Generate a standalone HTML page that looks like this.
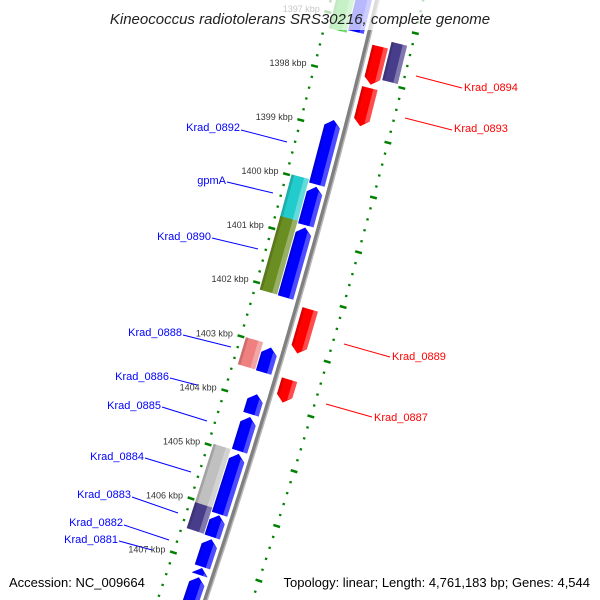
<!DOCTYPE html>
<html><head><meta charset="utf-8"><style>
html,body{margin:0;background:#fff;width:600px;height:600px;overflow:hidden}
svg{display:block;font-family:"Liberation Sans","DejaVu Sans",sans-serif}
</style></head><body>
<svg id="map" width="600" height="600" viewBox="0 0 600 600" xmlns="http://www.w3.org/2000/svg">
<rect x="0" y="0" width="600" height="600" fill="#fff"/>
<g id="tracks"></g>
<g id="genes"></g>
<g id="leaders" stroke-width="1">
<line x1="241" y1="130" x2="287" y2="142" stroke="#0000ff"/>
<line x1="227" y1="182" x2="273" y2="193" stroke="#0000ff"/>
<line x1="212" y1="238" x2="258" y2="249" stroke="#0000ff"/>
<line x1="183" y1="335" x2="231" y2="347" stroke="#0000ff"/>
<line x1="170" y1="378" x2="197" y2="385" stroke="#0000ff"/>
<line x1="162" y1="407" x2="207" y2="421" stroke="#0000ff"/>
<line x1="145" y1="458" x2="191" y2="472" stroke="#0000ff"/>
<line x1="132" y1="497" x2="178" y2="513" stroke="#0000ff"/>
<line x1="124" y1="525" x2="169" y2="540" stroke="#0000ff"/>
<line x1="119" y1="541" x2="152" y2="550" stroke="#0000ff"/>
<line x1="416" y1="76" x2="462" y2="88" stroke="#ff0000"/>
<line x1="405" y1="118" x2="452" y2="130" stroke="#ff0000"/>
<line x1="344" y1="344" x2="390" y2="357" stroke="#ff0000"/>
<line x1="326" y1="404" x2="372" y2="417" stroke="#ff0000"/>
</g>
<g font-size="11">
<text x="240" y="131" text-anchor="end" fill="#0000ff">Krad_0892</text>
<text x="226" y="184" text-anchor="end" fill="#0000ff">gpmA</text>
<text x="211" y="240" text-anchor="end" fill="#0000ff">Krad_0890</text>
<text x="182" y="336" text-anchor="end" fill="#0000ff">Krad_0888</text>
<text x="169" y="380" text-anchor="end" fill="#0000ff">Krad_0886</text>
<text x="161" y="409" text-anchor="end" fill="#0000ff">Krad_0885</text>
<text x="144" y="460" text-anchor="end" fill="#0000ff">Krad_0884</text>
<text x="131" y="498" text-anchor="end" fill="#0000ff">Krad_0883</text>
<text x="123" y="526" text-anchor="end" fill="#0000ff">Krad_0882</text>
<text x="118" y="543" text-anchor="end" fill="#0000ff">Krad_0881</text>
<text x="464" y="91" fill="#ff0000">Krad_0894</text>
<text x="454" y="132" fill="#ff0000">Krad_0893</text>
<text x="392" y="360" fill="#ff0000">Krad_0889</text>
<text x="374" y="421" fill="#ff0000">Krad_0887</text>
</g>
<g id="kbplabels"></g>
<rect x="0" y="0" width="600" height="30" fill="#fff" opacity="0.72"/>
<text x="300" y="24" text-anchor="middle" font-size="15" font-style="italic" fill="#222">Kineococcus radiotolerans SRS30216, complete genome</text>
<text x="9" y="587" font-size="13" fill="#000">Accession: NC_009664</text>
<text x="590" y="587" font-size="13" text-anchor="end" fill="#000">Topology: linear; Length: 4,761,183 bp; Genes: 4,544</text>
</svg>
<script>
// gene data (kbp)
var geneStarts = [1396.46,1398.85,1400.08,1400.83,1403.04,1403.90,1404.32,1405.00,1406.13,1406.57,1407.10,1407.27,
                  1396.54,1399.98,1400.75,1402.99,1404.96,1406.04,
                  1397.38,1398.14,1402.20,1403.49,1397.25];
var geneEnds   = [1397.23,1400.04,1400.79,1402.12,1403.50,1404.27,1404.95,1406.11,1406.53,1407.08,1407.23,1408.05,
                  1397.28,1400.77,1402.11,1403.49,1406.06,1406.52,
                  1398.08,1398.84,1403.01,1403.91,1397.95];
var geneStrand = ['+','+','+','+','+','+','+','+','+','+','+','+',
                  'b','b','b','b','b','b',
                  '-','-','-','-','r'];
var geneColors = ['#0000ff','#0000ff','#0000ff','#0000ff','#0000ff','#0000ff','#0000ff','#0000ff','#0000ff','#0000ff','#0000ff','#0000ff',
                  '#33cc33','#22cccc','#6b8e23','#f08080','#c0c0c0','#483d8b',
                  '#ff0000','#ff0000','#ff0000','#ff0000','#483d8b'];
var tickKbp = [1397,1398,1399,1400,1401,1402,1403,1404,1405,1406,1407];
var tickLabels = ['1397 kbp','1398 kbp','1399 kbp','1400 kbp','1401 kbp','1402 kbp','1403 kbp','1404 kbp','1405 kbp','1406 kbp','1407 kbp'];

var NS='http://www.w3.org/2000/svg';
function X(y){return 377-0.238*y-8.1e-5*y*y;}
function dX(y){return -0.238-1.62e-4*y;}
function yOf(k){return 77+(k-1398)*54.4;}
function pt(k,o){var yb=yOf(k),xb=X(yb),d=dX(yb),n=Math.sqrt(1+d*d);return [xb+o/n, yb-d*o/n];}
function P(a){return a.map(function(p){return p[0].toFixed(1)+','+p[1].toFixed(1);}).join(' ');}
function mk(tag,attrs,parent){var e=document.createElementNS(NS,tag);for(var k in attrs)e.setAttribute(k,attrs[k]);parent.appendChild(e);return e;}

var tracks=document.getElementById('tracks');
var bb=[],bb2=[];
for(var k=1396.2;k<=1408.6;k+=0.1){bb.push(pt(k,0));bb2.push(pt(k,2));}
var l1=mk('polyline',{points:P(bb),fill:'none',stroke:'#808080','stroke-width':4},tracks);


var l2=mk('polyline',{points:P(bb2),fill:'none',stroke:'#b8b8b8','stroke-width':1.5},tracks);


[-45,45].forEach(function(off){
  for(var i=0;i<=65;i++){
    var k=1396.0+i*0.2;var major=(i%5===0);
    var h=major?3.5:1.2;
    var a=pt(k,off-h),b=pt(k,off+h);
    var s=mk('line',{x1:a[0],y1:a[1],x2:b[0],y2:b[1],stroke:'#008000','stroke-width':major?2.5:2.2},tracks);
    
    
  }
});
var kl=document.getElementById('kbplabels');
tickKbp.forEach(function(k,i){
  var p=pt(k,-45);
  var t=mk('text',{x:(p[0]-8).toFixed(1),y:(p[1]).toFixed(1),'text-anchor':'end','font-size':9,fill:'#333'},kl);
  t.textContent=tickLabels[i];
  
  
});
var gg=document.getElementById('genes');
var cols={'+':[-21,-5],'b':[-40,-22],'-':[6,22],'r':[24,40]};
for(var i=0;i<geneStarts.length;i++){
  var s=geneStarts[i],e=geneEnds[i],st=geneStrand[i],c=cols[st],o1=c[0],o2=c[1],om=(o1+o2)/2,a=0.12;
  var pts;
  if(st==='+') pts=[pt(s,om),pt(s+a,o2),pt(e,o2),pt(e,o1),pt(s+a,o1)];
  else if(st==='-') pts=[pt(s,o1),pt(s,o2),pt(e-a,o2),pt(e,om),pt(e-a,o1)];
  else pts=[pt(s,o1),pt(s,o2),pt(e,o2),pt(e,o1)];
  var g=mk('g',{},gg);
  
  
  mk('polygon',{points:P(pts),fill:geneColors[i]},g);
  var w=o2-o1,ho=o2-w*0.28;
  var hl=(st==='+')?[pt(s+a*0.6,ho),pt(s+a,o2),pt(e,o2),pt(e,ho)]:(st==='-')?[pt(s,ho),pt(s,o2),pt(e-a,o2),pt(e-a*0.6,ho)]:[pt(s,ho),pt(s,o2),pt(e,o2),pt(e,ho)];
  mk('polygon',{points:P(hl),fill:'#fff',opacity:0.3},g);
  var sh=o1+w*0.15;
  var dk=(st==='+')?[pt(s+a,o1),pt(s+a*0.6,sh),pt(e,sh),pt(e,o1)]:(st==='-')?[pt(s,o1),pt(s,sh),pt(e-a*0.6,sh),pt(e-a,o1)]:[pt(s,o1),pt(s,sh),pt(e,sh),pt(e,o1)];
  mk('polygon',{points:P(dk),fill:'#000',opacity:0.15},g);
}
</script>
</body></html>
